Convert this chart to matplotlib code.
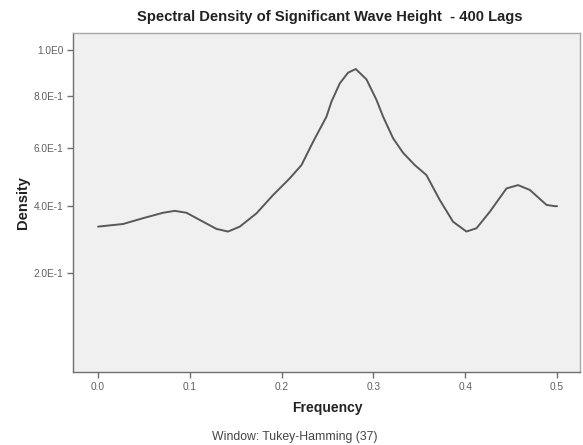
import numpy as np
import matplotlib
matplotlib.use("Agg")
import matplotlib.pyplot as plt

freq = [0.0, 0.0272, 0.049, 0.0708, 0.0836, 0.0963, 0.1144, 0.129, 0.1416, 0.1544,
        0.1725, 0.1906, 0.2088, 0.2216, 0.2342, 0.2488, 0.2542, 0.2633, 0.2723, 0.2807,
        0.2924, 0.3033, 0.3105, 0.3214, 0.3322, 0.345, 0.3577, 0.3722, 0.3867, 0.4013,
        0.4122, 0.4267, 0.4449, 0.4575, 0.4703, 0.4885, 0.4975, 0.5]
density = [0.335, 0.343, 0.361, 0.378, 0.384, 0.378, 0.350, 0.328, 0.320, 0.335,
           0.376, 0.435, 0.491, 0.537, 0.621, 0.717, 0.777, 0.853, 0.899, 0.915,
           0.870, 0.784, 0.717, 0.634, 0.581, 0.537, 0.502, 0.419, 0.350, 0.320,
           0.330, 0.381, 0.457, 0.468, 0.452, 0.403, 0.399, 0.399]
xticks = [0.0, 0.1, 0.2, 0.3, 0.4, 0.5]
xticklabels = ["0.0", "0.1", "0.2", "0.3", "0.4", "0.5"]
yticks = [0.2, 0.4, 0.6, 0.8, 1.0]
yticklabels = ["2.0E-1", "4.0E-1", "6.0E-1", "8.0E-1", "1.0E0"]

plt.rcParams['font.family'] = ['Liberation Sans', 'DejaVu Sans']

fig = plt.figure(figsize=(5.83, 4.45), dpi=100)
fig.patch.set_facecolor('white')
ax = fig.add_axes([0.1257, 0.164, 0.8692, 0.7625])
ax.set_facecolor('#f0f0f0')

ax.set_yscale('function', functions=(lambda v: np.log(np.maximum(v + 1.0, 1e-9)),
                                      lambda u: np.exp(u) - 1.0))

ax.plot(freq, density, color='#585858', linewidth=1.4, solid_joinstyle='round',
        solid_capstyle='round')

ax.set_xlim(-0.027, 0.525)
ax.set_ylim(-0.043, 1.081)
ax.set_xticks(xticks)
ax.set_xticklabels(xticklabels)
ax.set_yticks(yticks)
ax.set_yticklabels(yticklabels)
ax.minorticks_off()

for s in ax.spines.values():
    s.set_color('#a8a8a8')
    s.set_linewidth(1.0)
ax.spines['left'].set_color('#707070')
ax.spines['bottom'].set_color('#707070')

ax.tick_params(axis='both', direction='out', length=4, width=1, color='#707070',
               labelsize=7.3, labelcolor='#606060', pad=3)

ax.set_xlabel('Frequency', fontsize=10, fontweight='bold', color='#222222')
ax.xaxis.set_label_coords(0.502, -0.106)
ax.set_ylabel('Density', fontsize=10.5, fontweight='bold', color='#222222')
ax.yaxis.set_label_coords(-0.099, 0.5)
ax.xaxis.label.set_va('center')
ax.yaxis.label.set_va('center')
fig.text(0.566, 0.9625, 'Spectral Density of Significant Wave Height  - 400 Lags',
         ha='center', va='center', fontsize=10.6, fontweight='bold', color='#222222')
fig.text(0.506, 0.018, 'Window: Tukey-Hamming (37)', ha='center', va='center',
         fontsize=8.8, color='#444444')

fig.savefig('out.png', dpi=100, facecolor='white')
